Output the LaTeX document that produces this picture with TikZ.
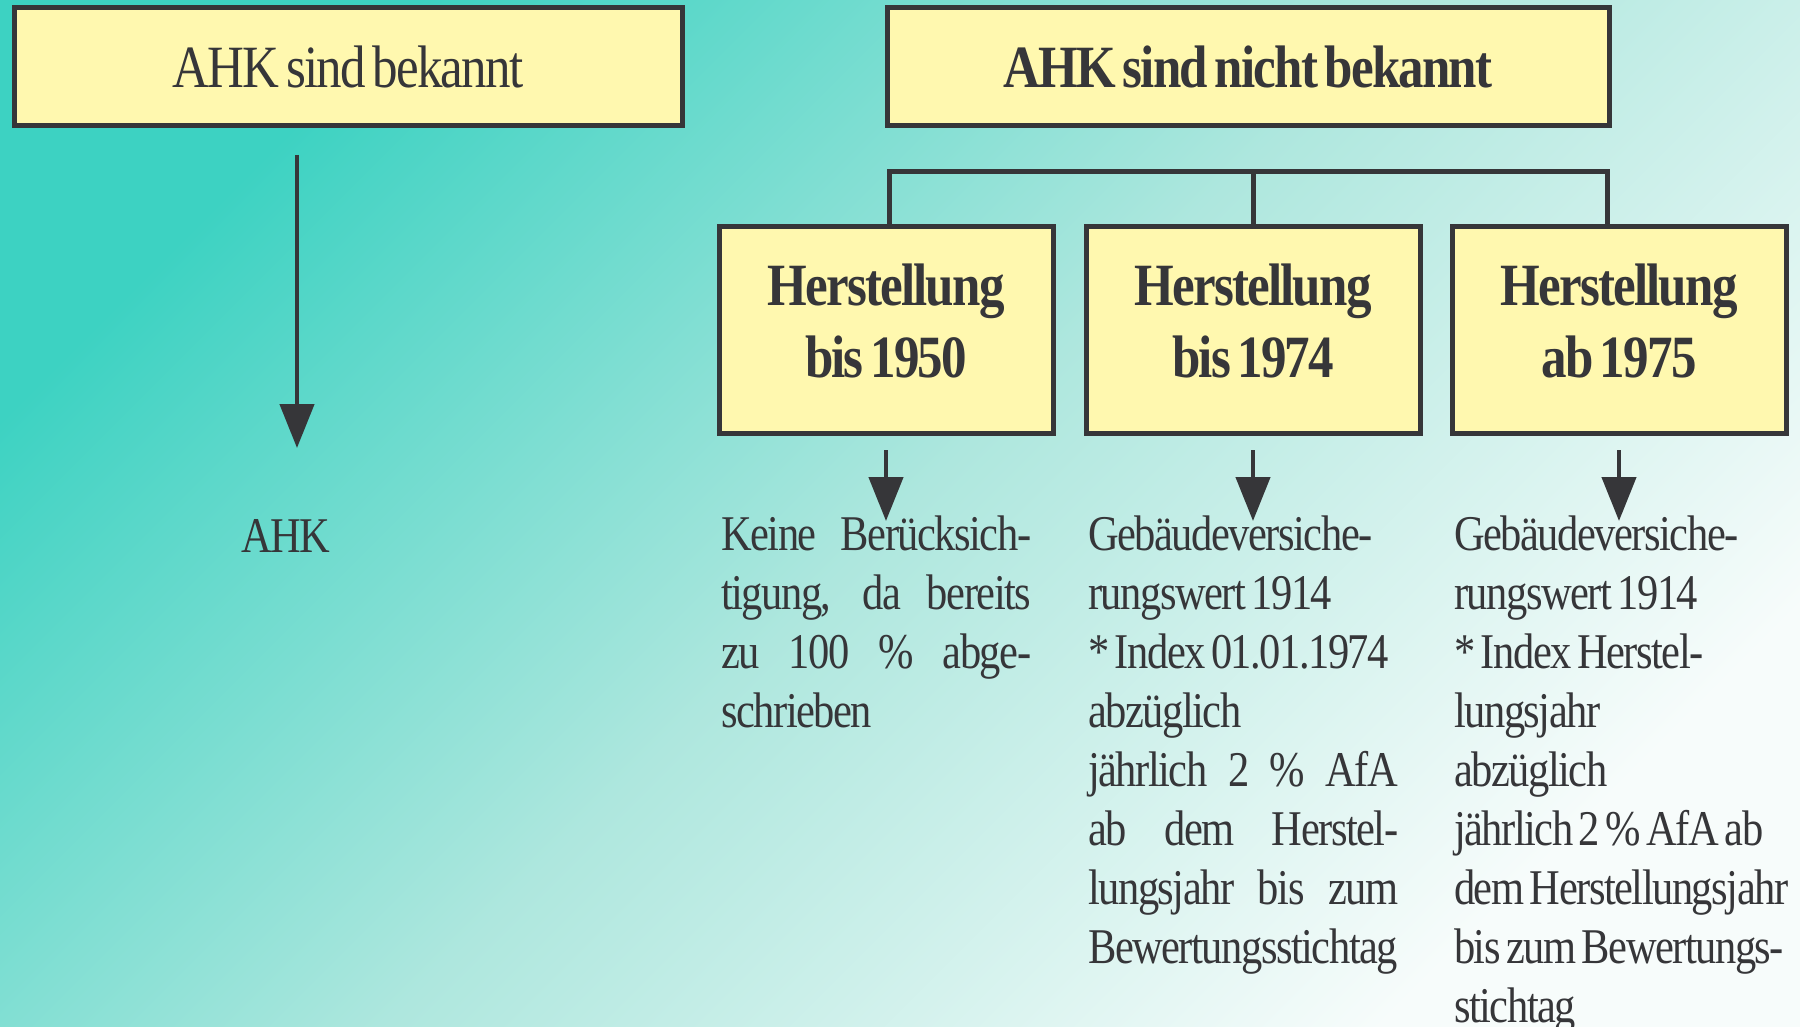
\documentclass[tikz,border=0pt]{standalone}
\usepackage{fontspec}
\setmainfont{Liberation Serif}[FakeStretch=0.85, LetterSpace=-3, WordSpace=0.6]
\usetikzlibrary{arrows.meta}
\definecolor{bgA}{HTML}{3DD2C2}
\definecolor{bgM}{HTML}{AEE7DE}
\definecolor{bgB}{HTML}{F7FCFB}
\definecolor{boxfill}{HTML}{FFF8AF}
\definecolor{ink}{HTML}{363639}
\newcommand\JLine[1]{\makebox[310pt][s]{\strut #1}}
\tikzset{
  boxnode/.style={draw=ink, fill=boxfill, line width=5pt, inner sep=0pt, align=center, text=ink},
  titlefont/.style={font=\fontsize{60}{72}\selectfont},
  boldtitle/.style={font=\bfseries\fontsize{60}{72}\selectfont},
  bodytxt/.style={text=ink, inner sep=0pt, font=\fontsize{50}{59}\selectfont, align=left},
  conn/.style={draw=ink, line width=5pt},
  arr/.style={draw=ink, line width=4.5pt, -{Triangle[length=44pt,width=34pt]}},
}
\begin{document}
\begin{tikzpicture}[x=1pt,y=-1pt]
\useasboundingbox (0,0) rectangle (1800,1027);
\shade[top color=bgA, bottom color=bgB, middle color=bgM, shading angle=45] (0,0) rectangle (1800,1027);

% top boxes
\node[boxnode, titlefont, minimum width=668pt, minimum height=118pt] (b1) at (348,67) {AHK sind bekannt};
\node[boxnode, boldtitle, minimum width=722pt, minimum height=118pt] (b2) at (1248,67) {AHK sind nicht bekannt};

% second level boxes
\node[boxnode, boldtitle, minimum width=334pt, minimum height=207pt] (hA) at (886,330) {Herstellung\\bis 1950\rule[-19pt]{0pt}{0pt}};
\node[boxnode, boldtitle, minimum width=334pt, minimum height=207pt] (hB) at (1253,330) {Herstellung\\bis 1974\rule[-19pt]{0pt}{0pt}};
\node[boxnode, boldtitle, minimum width=334pt, minimum height=207pt] (hC) at (1619,330) {Herstellung\\ab 1975\rule[-19pt]{0pt}{0pt}};

% bracket
\coordinate (brL) at (889,172);
\coordinate (brR) at (1607,172);
\draw[conn, line join=miter] (brL |- hA.north) -- (brL) -- (brR) -- (brR |- hC.north);
\draw[conn] (hB.north |- brL) -- (hB.north);

% left arrow
\coordinate (lA) at (297,155);
\coordinate (lB) at (297,448);
\draw[arr] (lA) -- (lB);

% texts
\node[bodytxt, anchor=base west] (ahk) at (241,552) {AHK};

\node[bodytxt, anchor=north west] (tA) at (721,508.7)
  {\JLine{Keine Berücksich-}\\
   \JLine{tigung, da bereits}\\
   \JLine{zu 100 \% abge-}\\
   \strut schrieben};

\node[bodytxt, anchor=north west] (tB) at (1088,508.7)
  {\strut Gebäudeversiche-\\
   \strut rungswert 1914\\
   \strut * Index 01.01.1974\\
   \strut abzüglich\\
   \JLine{jährlich 2 \% AfA}\\
   \JLine{ab dem Herstel-}\\
   \JLine{lungsjahr bis zum}\\
   \strut Bewertungsstichtag};

\node[bodytxt, anchor=north west] (tC) at (1454,508.7)
  {\strut Gebäudeversiche-\\
   \strut rungswert 1914\\
   \strut * Index Herstel-\\
   \strut lungsjahr\\
   \strut abzüglich\\
   \strut jährlich 2 \% AfA ab\\
   \strut dem Herstellungsjahr\\
   \strut bis zum Bewertungs-\\
   \strut stichtag};

% arrows to texts
\draw[arr] ([yshift=-14pt]hA.south) -- ([yshift=-85pt]hA.south);
\draw[arr] ([yshift=-14pt]hB.south) -- ([yshift=-85pt]hB.south);
\draw[arr] ([yshift=-14pt]hC.south) -- ([yshift=-85pt]hC.south);
\end{tikzpicture}
\end{document}
